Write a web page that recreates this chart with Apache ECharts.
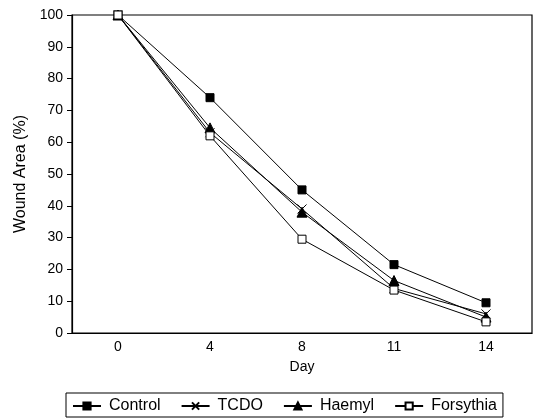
<!DOCTYPE html>
<html>
<head>
<meta charset="utf-8">
<script src="https://cdn.jsdelivr.net/npm/echarts@6/dist/echarts.min.js"></script>
<style>
html,body{margin:0;padding:0;background:#fff;}
#chart{width:538px;height:418px;}
</style>
</head>
<body>
<div id="chart"></div>
<script>
var days = ["0", "4", "8", "11", "14"];
var control = [100, 74, 45, 21.5, 9.5];
var tcdo = [100, 63, 39, 14, 6];
var haemyl = [100, 64.5, 38, 16.5, 5];
var forsythia = [100, 62, 29.5, 13.5, 3.5];
var yTicks = [0, 10, 20, 30, 40, 50, 60, 70, 80, 90, 100];

var FONT = "Liberation Sans, Arial, sans-serif";
var chart = echarts.init(document.getElementById('chart'));

function mk(name, data, symbol, size, fill) {
  return {
    name: name,
    type: 'line',
    data: data,
    symbol: symbol,
    symbolSize: size,
    showSymbol: true,
    lineStyle: {color: '#000', width: 1},
    itemStyle: {color: fill, borderColor: '#000', borderWidth: 1},
    emphasis: {disabled: true},
    animation: false
  };
}

chart.setOption({
  backgroundColor: '#fff',
  animation: false,
  grid: {left: 72, right: 6, top: 15, bottom: 85, show: true, borderColor: '#000', borderWidth: 1.2, backgroundColor: 'transparent'},
  xAxis: {
    type: 'category',
    data: days,
    boundaryGap: true,
    name: 'Day',
    nameLocation: 'middle',
    nameGap: 27,
    nameTextStyle: {fontFamily: FONT, fontSize: 14, color: '#000'},
    axisLine: {lineStyle: {color: '#000', width: 1.2}},
    axisTick: {alignWithLabel: true, length: 5, lineStyle: {color: '#000'}},
    axisLabel: {fontFamily: FONT, fontSize: 14, color: '#000', margin: 7},
    splitLine: {show: false}
  },
  yAxis: {
    type: 'value',
    min: 0, max: 100, interval: 10,
    name: 'Wound Area (%)',
    nameLocation: 'middle',
    nameGap: 40,
    nameRotate: 90,
    nameTextStyle: {fontFamily: FONT, fontSize: 16, color: '#000'},
    axisLine: {show: true, lineStyle: {color: '#000', width: 1.2}},
    axisTick: {show: true, length: 5, lineStyle: {color: '#000'}},
    axisLabel: {fontFamily: FONT, fontSize: 14, color: '#000', margin: 9,
      formatter: function (v) { return yTicks.indexOf(v) >= 0 ? String(v) : ''; }},
    splitLine: {show: false}
  },
  legend: {
    left: 66,
    top: 393,
    orient: 'horizontal',
    itemWidth: 28,
    itemHeight: 9,
    itemGap: 20,
    padding: [5, 6, 3, 6],
    borderColor: '#000',
    borderWidth: 1,
    textStyle: {fontFamily: FONT, fontSize: 16, color: '#000', padding: [0, 0, 0, 3]},
    data: ['Control', 'TCDO', 'Haemyl', 'Forsythia']
  },
  series: [
    mk('Control', control, 'rect', 8, '#000'),
    mk('TCDO', tcdo, 'path://M0,0L10,10M10,0L0,10', 9, '#000'),
    mk('Haemyl', haemyl, 'triangle', 10, '#000'),
    mk('Forsythia', forsythia, 'rect', 8, '#fff')
  ]
});
</script>
</body>
</html>
